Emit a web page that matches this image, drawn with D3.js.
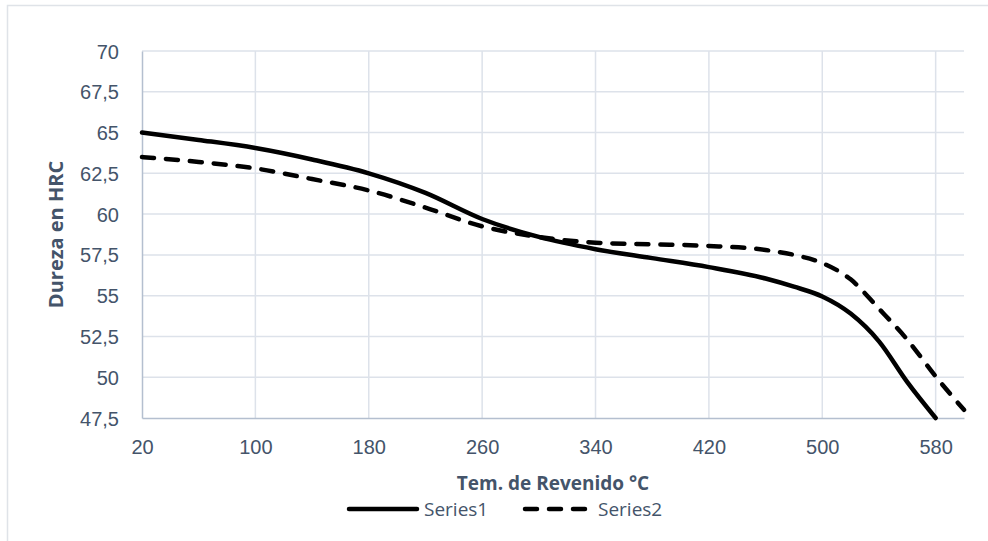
<!DOCTYPE html>
<html>
<head>
<meta charset="utf-8">
<script src="https://cdn.jsdelivr.net/npm/d3@7"></script>
<style>
    body { margin: 0; background: #fff; }
    svg { display: block; font-family: "Open Sans", sans-serif; }
    .grid line { stroke: #dde2ea; stroke-width: 1.5; }
    .tick text { fill: #44546a; font-size: 20px; }
</style>
</head>
<body>
<div class="chart"></div>
<script>
// Values (temperature in °C, hardness in HRC).
const temps1 = [20, 60, 100, 140, 180, 220, 260, 300, 340, 380, 420, 460, 480, 500, 520, 540, 560, 580];
const series1 = [65, 64.55, 64.05, 63.35, 62.5, 61.3, 59.7, 58.6, 57.85, 57.3, 56.75, 56.05, 55.55, 54.95, 53.9, 52.2, 49.7, 47.5];
const temps2 = [20, 60, 100, 140, 180, 220, 260, 300, 340, 380, 420, 460, 480, 500, 520, 540, 560, 580, 600];
const series2 = [63.5, 63.2, 62.8, 62.15, 61.45, 60.4, 59.25, 58.6, 58.25, 58.15, 58.05, 57.8, 57.5, 57.0, 56.0, 54.2, 52.3, 50.05, 48.0];
const xTicks = [20, 100, 180, 260, 340, 420, 500, 580];
const yTicks = [47.5, 50, 52.5, 55, 57.5, 60, 62.5, 65, 67.5, 70];
const seriesNames = ["Series1", "Series2"];

const WIDTH = 988;
const HEIGHT = 541;
const PLOT = { left: 142, right: 964, top: 51, bottom: 418 };
const TEXT_COLOR = "#44546a";
const AXIS_COLOR = "#b4bfcf";

const svg = d3
    .select(".chart")
    .append("svg")
    .attr("width", WIDTH)
    .attr("height", HEIGHT);

// Chart area border (right and bottom edges fall outside the picture).
svg.append("rect")
    .attr("x", 7.5)
    .attr("y", 5.5)
    .attr("width", WIDTH + 20)
    .attr("height", HEIGHT + 20)
    .attr("fill", "none")
    .attr("stroke", "#dfe3e8")
    .attr("stroke-width", 1.5);

const x = d3.scaleLinear().domain([20, 600]).range([PLOT.left, PLOT.right]);
const y = d3.scaleLinear().domain([47.5, 70]).range([PLOT.bottom, PLOT.top]);

const fmt = (v) => String(v).replace(".", ",");

// Gridlines
const grid = svg.append("g").classed("grid", true);
grid.selectAll("line.h")
    .data(yTicks.slice(1))
    .join("line")
    .classed("h", true)
    .attr("x1", PLOT.left)
    .attr("x2", PLOT.right)
    .attr("y1", (d) => y(d))
    .attr("y2", (d) => y(d));
grid.selectAll("line.v")
    .data(xTicks.slice(1))
    .join("line")
    .classed("v", true)
    .attr("x1", (d) => x(d))
    .attr("x2", (d) => x(d))
    .attr("y1", PLOT.top)
    .attr("y2", PLOT.bottom);

// Axes
const xAxis = svg.append("g")
    .attr("transform", "translate(0," + PLOT.bottom + ")")
    .call(d3.axisBottom(x).tickValues(xTicks).tickSize(0).tickPadding(22).tickFormat(fmt));
xAxis.select(".domain").attr("stroke", AXIS_COLOR).attr("stroke-width", 1.5);

const yAxis = svg.append("g")
    .attr("transform", "translate(" + PLOT.left + ",0)")
    .call(d3.axisLeft(y).tickValues(yTicks).tickSize(0).tickPadding(23).tickFormat(fmt));
yAxis.select(".domain").attr("stroke", AXIS_COLOR).attr("stroke-width", 1.5);
yAxis.selectAll(".tick text").attr("dy", "0.35em");

// Axis titles
svg.append("text")
    .attr("transform", "translate(63," + (PLOT.top + PLOT.bottom) / 2 + ") rotate(-90)")
    .attr("text-anchor", "middle")
    .attr("font-size", 20)
    .attr("font-weight", "bold")
    .attr("fill", TEXT_COLOR)
    .text("Dureza en HRC");

svg.append("text")
    .attr("x", (PLOT.left + PLOT.right) / 2)
    .attr("y", 490)
    .attr("text-anchor", "middle")
    .attr("font-size", 19)
    .attr("font-weight", "bold")
    .attr("fill", TEXT_COLOR)
    .text("Tem. de Revenido °C");

// Lines
const line = d3.line()
    .x((d) => x(d[0]))
    .y((d) => y(d[1]))
    .curve(d3.curveMonotoneX);

svg.append("path")
    .datum(d3.zip(temps1, series1))
    .attr("d", line)
    .attr("fill", "none")
    .attr("stroke", "#000")
    .attr("stroke-width", 4.5)
    .attr("stroke-linecap", "round");

svg.append("path")
    .datum(d3.zip(temps2, series2))
    .attr("d", line)
    .attr("fill", "none")
    .attr("stroke", "#000")
    .attr("stroke-width", 4.5)
    .attr("stroke-linecap", "round")
    .attr("stroke-dasharray", "12,12");

// Legend
const legend = svg.append("g").attr("transform", "translate(0,509)");
const legendItems = [
    { name: seriesNames[0], x1: 349, x2: 417, dash: null, tx: 424 },
    { name: seriesNames[1], x1: 525, x2: 585, dash: "12,12", tx: 598 },
];
legendItems.forEach((item) => {
    legend.append("line")
        .attr("x1", item.x1)
        .attr("x2", item.x2)
        .attr("stroke", "#000")
        .attr("stroke-width", 4.5)
        .attr("stroke-linecap", "round")
        .attr("stroke-dasharray", item.dash);
    legend.append("text")
        .attr("x", item.tx)
        .attr("dy", "0.35em")
        .attr("font-size", 19)
        .attr("fill", TEXT_COLOR)
        .text(item.name);
});
</script>
</body>
</html>
